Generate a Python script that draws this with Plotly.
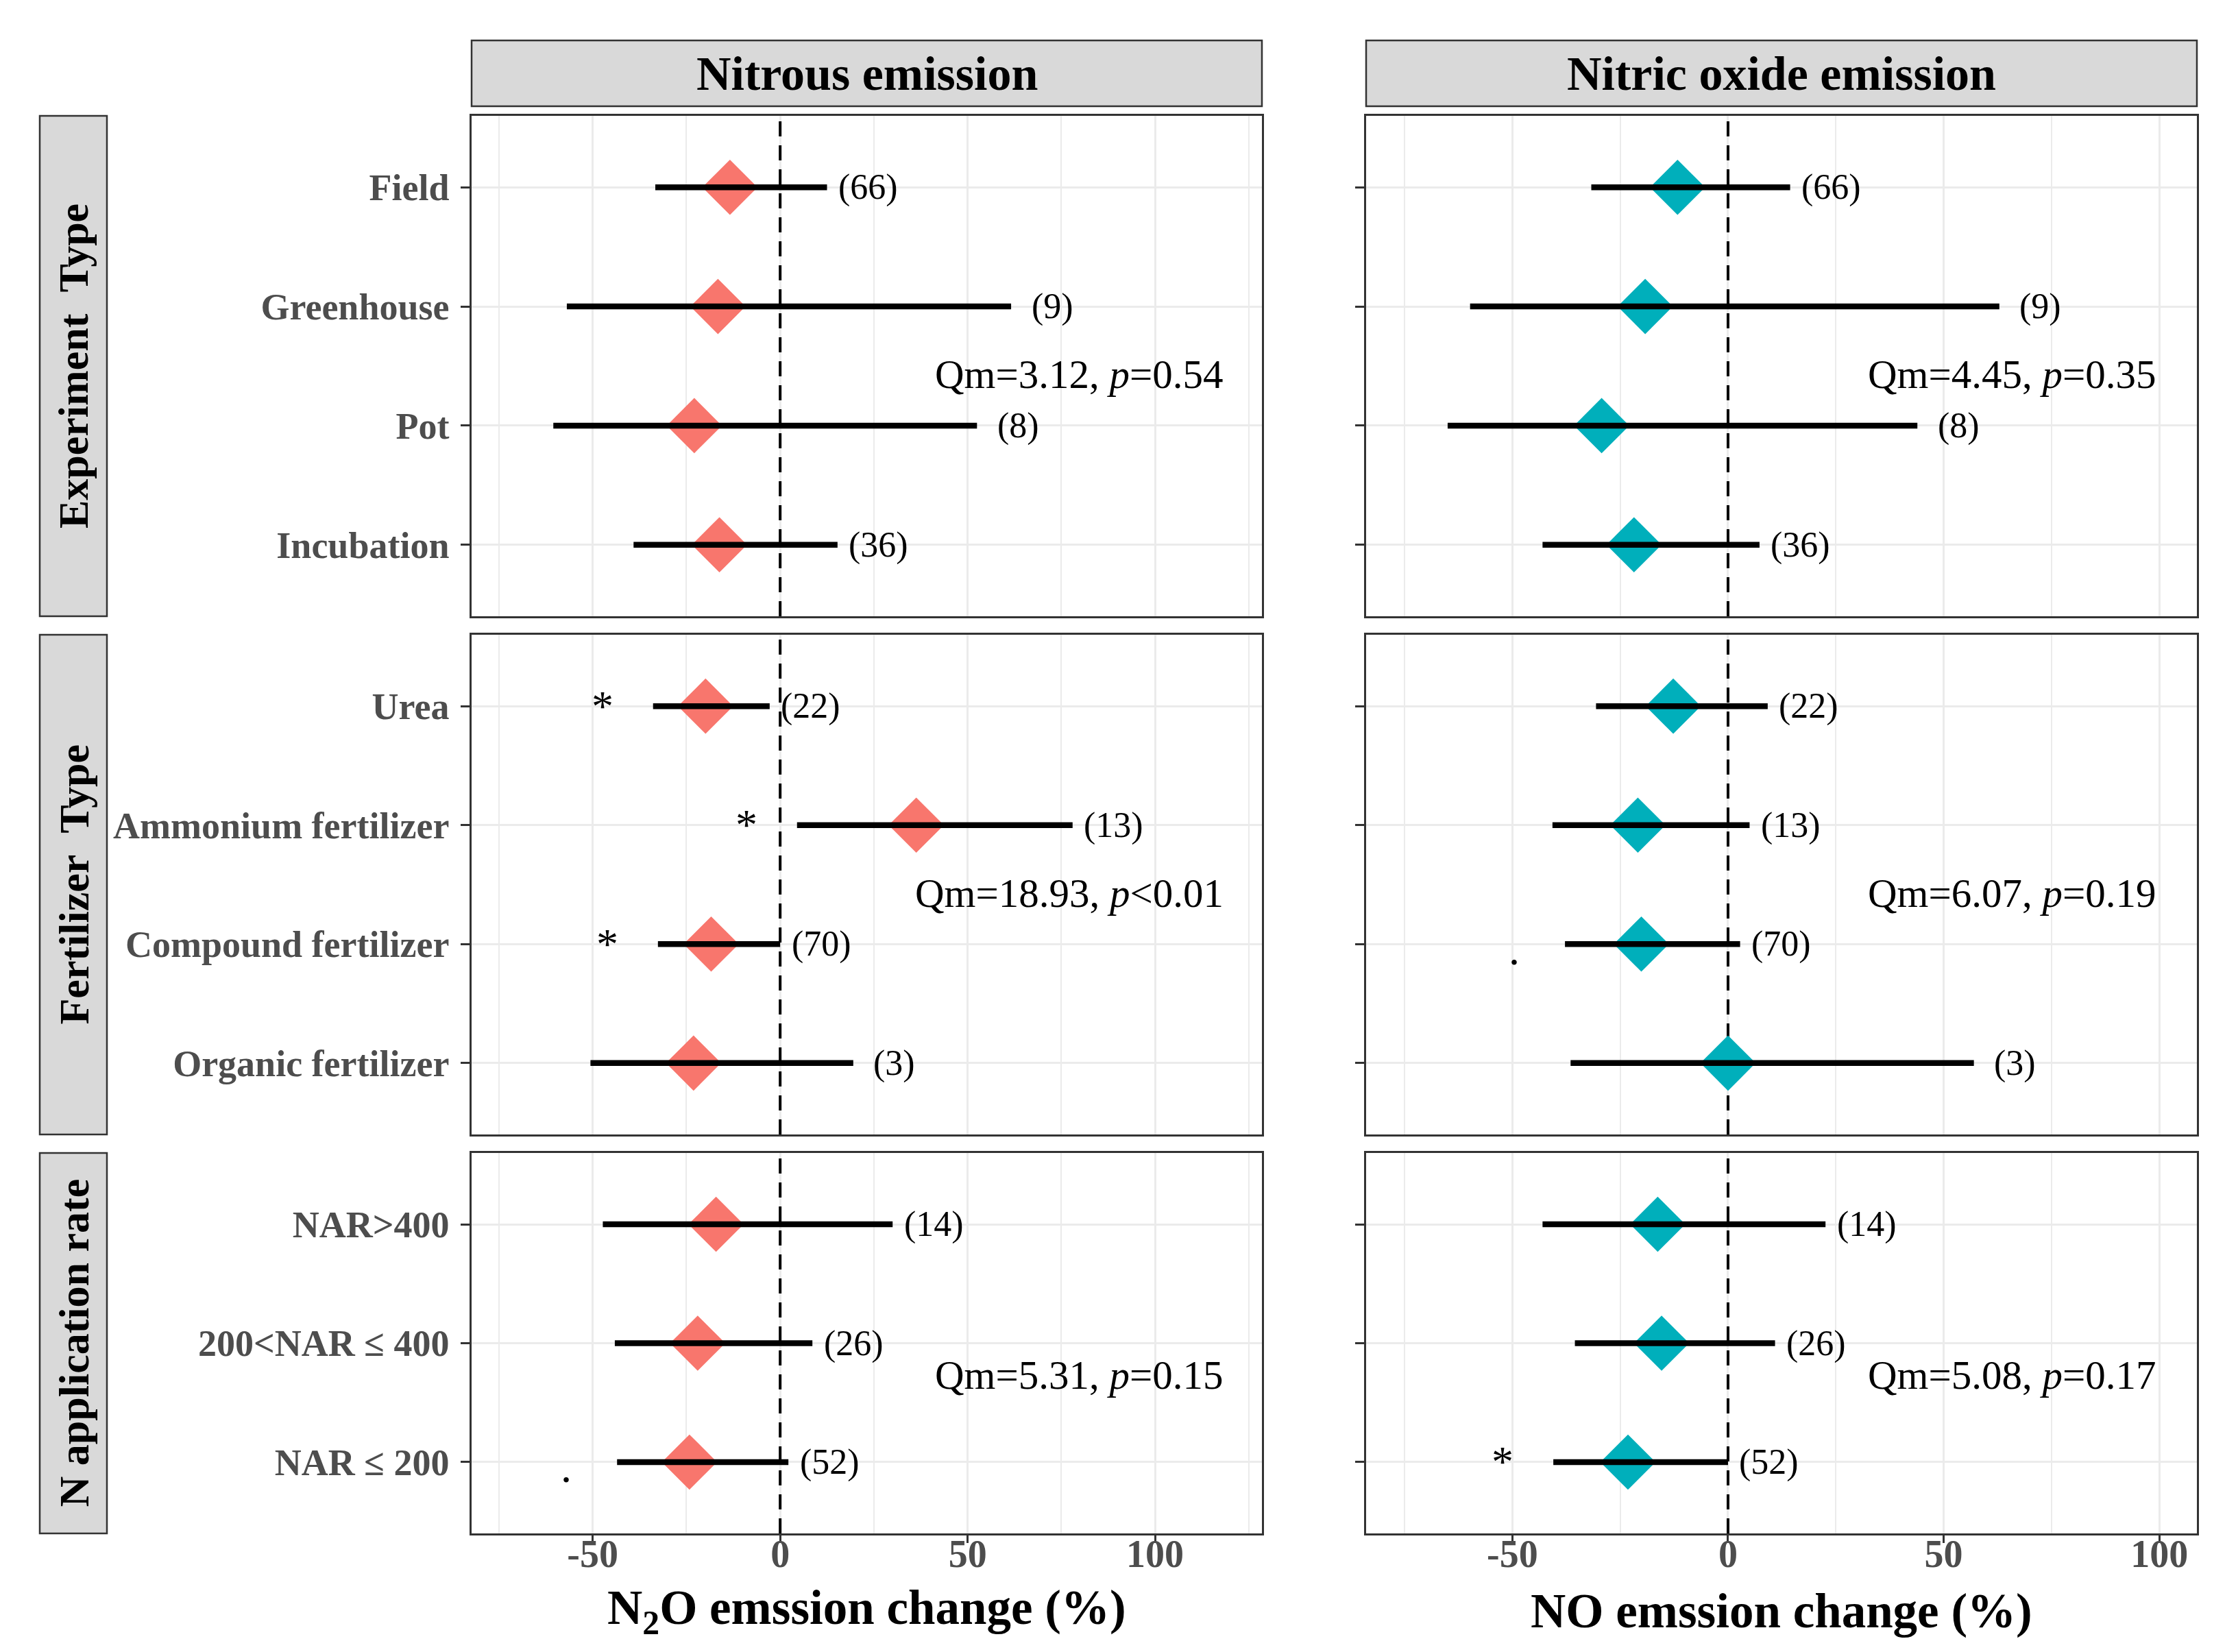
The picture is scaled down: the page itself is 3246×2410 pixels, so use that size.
import plotly.graph_objects as go

# ---------------- data ----------------
groups = ["Experiment\u00a0\u00a0Type", "Fertilizer\u00a0\u00a0Type", "N application rate"]
group_of = ([groups[0]] * 4) + ([groups[1]] * 4) + ([groups[2]] * 3)
categories = ["Field", "Greenhouse", "Pot", "Incubation",
              "Urea", "Ammonium fertilizer", "Compound fertilizer", "Organic fertilizer",
              "NAR&gt;400", "200&lt;NAR \u2264 400", "NAR \u2264 200"]
counts = [66, 9, 8, 36, 22, 13, 70, 3, 14, 26, 52]

n2o_mean = [-13.4, -16.6, -22.9, -16.2, -19.9, 36.3, -18.4, -23.1, -17.1, -22.0, -24.2]
n2o_low = [-33.3, -56.9, -60.5, -39.1, -33.9, 4.5, -32.6, -50.6, -47.3, -44.1, -43.5]
n2o_high = [12.5, 61.6, 52.5, 15.3, -2.8, 78.0, 0.0, 19.5, 30.0, 8.6, 2.2]
n2o_sig = ["", "", "", "", "*", "*", "*", "", "", "", "."]

no_mean = [-11.7, -19.2, -29.3, -21.8, -12.7, -20.9, -20.1, 0.0, -16.3, -15.4, -23.2]
no_low = [-31.7, -59.8, -65.0, -43.0, -30.6, -40.7, -37.8, -36.5, -43.0, -35.5, -40.5]
no_high = [14.4, 62.9, 43.9, 7.3, 9.2, 5.0, 2.8, 57.0, 22.6, 10.9, 0.0]
no_sig = ["", "", "", "", "", "", ".", "", "", "", "*"]

qm_n2o = ["Qm=3.12, <i>p</i>=0.54", "Qm=18.93, <i>p</i>&lt;0.01", "Qm=5.31, <i>p</i>=0.15"]
qm_no = ["Qm=4.45, <i>p</i>=0.35", "Qm=6.07, <i>p</i>=0.19", "Qm=5.08, <i>p</i>=0.17"]

col_titles = ["Nitrous emission", "Nitric oxide emission"]
x_titles = ["N<sub>2</sub>O emssion change (%)", "NO emssion change (%)"]
x_ticks = [-50, 0, 50, 100]
x_tick_text = ["-50", "0", "50", "100"]

# ---------------- layout geometry ----------------
W, H = 3246, 2410
FONT = "Liberation Serif"
colors = ["#F8766D", "#00AFBB"]
x_ranges = [[-82.3, 128.5], [-83.9, 108.7]]
minor_vals = [[-75, -25, 25, 75, 125], [-75, -25, 25, 75]]
panel_x_px = [(680, 1833), (1985, 3197)]
panel_y_px = [(161, 891), (918, 1647), (1674, 2229)]
strip_top_px = (51, 147)
row_strip_px = (50, 148)
qm_ypos = [0.483, 0.483, 0.416]


def xdom(a, b):
    return [a / W, b / W]


def ydom(a, b):
    return [1 - b / H, 1 - a / H]


series = [
    (n2o_mean, n2o_low, n2o_high, n2o_sig, qm_n2o),
    (no_mean, no_low, no_high, no_sig, qm_no),
]

fig = go.Figure()
layout = {}
annotations = []
shapes = []

for r, grp in enumerate(groups):
    idx = [i for i, g in enumerate(group_of) if g == grp]
    k = len(idx)
    cats = [categories[i] for i in idx]
    ypos = [k - j for j in range(k)]
    for c in range(2):
        n = r * 2 + c + 1
        xa = "x" if n == 1 else f"x{n}"
        ya = "y" if n == 1 else f"y{n}"
        xkey = "xaxis" if n == 1 else f"xaxis{n}"
        ykey = "yaxis" if n == 1 else f"yaxis{n}"
        mean, low, high, sig, qm = series[c]
        bottom = (r == 2)

        layout[xkey] = dict(
            domain=xdom(*panel_x_px[c]), anchor=ya, range=x_ranges[c],
            tickmode="array", tickvals=x_ticks, ticktext=x_tick_text,
            showgrid=True, gridcolor="#EBEBEB", gridwidth=3,
            minor=dict(tickmode="array", tickvals=minor_vals[c], showgrid=True,
                       gridcolor="#EBEBEB", gridwidth=1.5, ticks=""),
            zeroline=False, showline=True, mirror=True,
            linecolor="#333333", linewidth=2.5,
            ticks="outside" if bottom else "", ticklen=11, tickwidth=3, tickcolor="#333333",
            showticklabels=bottom, ticklabelstandoff=-32,
            tickfont=dict(family=FONT, size=56, color="#4D4D4D", weight="bold"),
            fixedrange=True,
        )
        layout[ykey] = dict(
            domain=ydom(*panel_y_px[r]), anchor=xa, range=[0.4, k + 0.6],
            tickmode="array", tickvals=ypos, ticktext=cats,
            showgrid=True, gridcolor="#EBEBEB", gridwidth=3,
            zeroline=False, showline=True, mirror=True,
            linecolor="#333333", linewidth=2.5,
            ticks="outside", ticklen=13, tickwidth=3, tickcolor="#333333",
            showticklabels=(c == 0), ticklabelstandoff=6,
            tickfont=dict(family=FONT, size=54, color="#4D4D4D", weight="bold"),
            fixedrange=True,
        )

        # zero reference line (dashed), spanning the panel
        fig.add_trace(go.Scatter(
            x=[0, 0], y=[0.4, k + 0.6], mode="lines",
            line=dict(color="black", width=4, dash="22px,13px"),
            xaxis=xa, yaxis=ya, showlegend=False, hoverinfo="skip"))
        # diamonds
        fig.add_trace(go.Scatter(
            x=[mean[i] for i in idx], y=ypos, mode="markers",
            marker=dict(symbol="diamond", size=62, color=colors[c], line=dict(width=0)),
            xaxis=xa, yaxis=ya, showlegend=False, hoverinfo="skip"))
        # confidence intervals
        bx, by = [], []
        for i, yv in zip(idx, ypos):
            bx += [low[i], high[i], None]
            by += [yv, yv, None]
        fig.add_trace(go.Scatter(
            x=bx, y=by, mode="lines", line=dict(color="black", width=8.5),
            xaxis=xa, yaxis=ya, showlegend=False, hoverinfo="skip"))

        for i, yv in zip(idx, ypos):
            annotations.append(dict(
                x=high[i], y=yv, xref=xa, yref=ya, text=f"({counts[i]})",
                showarrow=False, xanchor="center", yanchor="middle", xshift=60,
                font=dict(family=FONT, size=52, color="black")))
            if sig[i]:
                annotations.append(dict(
                    x=low[i], y=yv, xref=xa, yref=ya, text=sig[i],
                    showarrow=False, xanchor="center", yanchor="middle", xshift=-74,
                    yshift=(-8 if sig[i] == "." else 0),
                    font=dict(family=FONT, size=64, color="black")))

        annotations.append(dict(
            x=0.953, y=qm_ypos[r], xref=f"{xa} domain", yref=f"{ya} domain",
            text=qm[r], showarrow=False, xanchor="right", yanchor="middle",
            font=dict(family=FONT, size=59, color="black")))

    # row strip
    y0, y1 = ydom(*panel_y_px[r])
    shapes.append(dict(type="rect", xref="paper", yref="paper",
                       x0=row_strip_px[0] / W, x1=row_strip_px[1] / W, y0=y0, y1=y1,
                       fillcolor="#D9D9D9", line=dict(color="#333333", width=2.5)))
    annotations.append(dict(
        x=(row_strip_px[0] + row_strip_px[1]) / 2 / W, y=(y0 + y1) / 2,
        xref="paper", yref="paper", text=grp, textangle=-90, showarrow=False,
        xanchor="center", yanchor="middle",
        font=dict(family=FONT, size=62, color="black", weight="bold")))

# column strips and axis titles
for c in range(2):
    x0, x1 = xdom(*panel_x_px[c])
    sy0, sy1 = ydom(*strip_top_px)
    shapes.append(dict(type="rect", xref="paper", yref="paper",
                       x0=x0, x1=x1, y0=sy0, y1=sy1,
                       fillcolor="#D9D9D9", line=dict(color="#333333", width=2.5)))
    annotations.append(dict(
        x=(x0 + x1) / 2, y=(sy0 + sy1) / 2, xref="paper", yref="paper",
        text=col_titles[c], showarrow=False, xanchor="center", yanchor="middle",
        font=dict(family=FONT, size=70, color="black", weight="bold")))
    annotations.append(dict(
        x=(x0 + x1) / 2, y=1 - 2342 / H, xref="paper", yref="paper",
        text=x_titles[c], showarrow=False, xanchor="center", yanchor="middle",
        font=dict(family=FONT, size=71, color="black", weight="bold")))

fig.update_layout(
    width=W, height=H, margin=dict(l=0, r=0, t=0, b=0),
    paper_bgcolor="white", plot_bgcolor="white",
    showlegend=False, annotations=annotations, shapes=shapes,
    font=dict(family=FONT),
    **layout,
)

fig.write_html("out.html")
